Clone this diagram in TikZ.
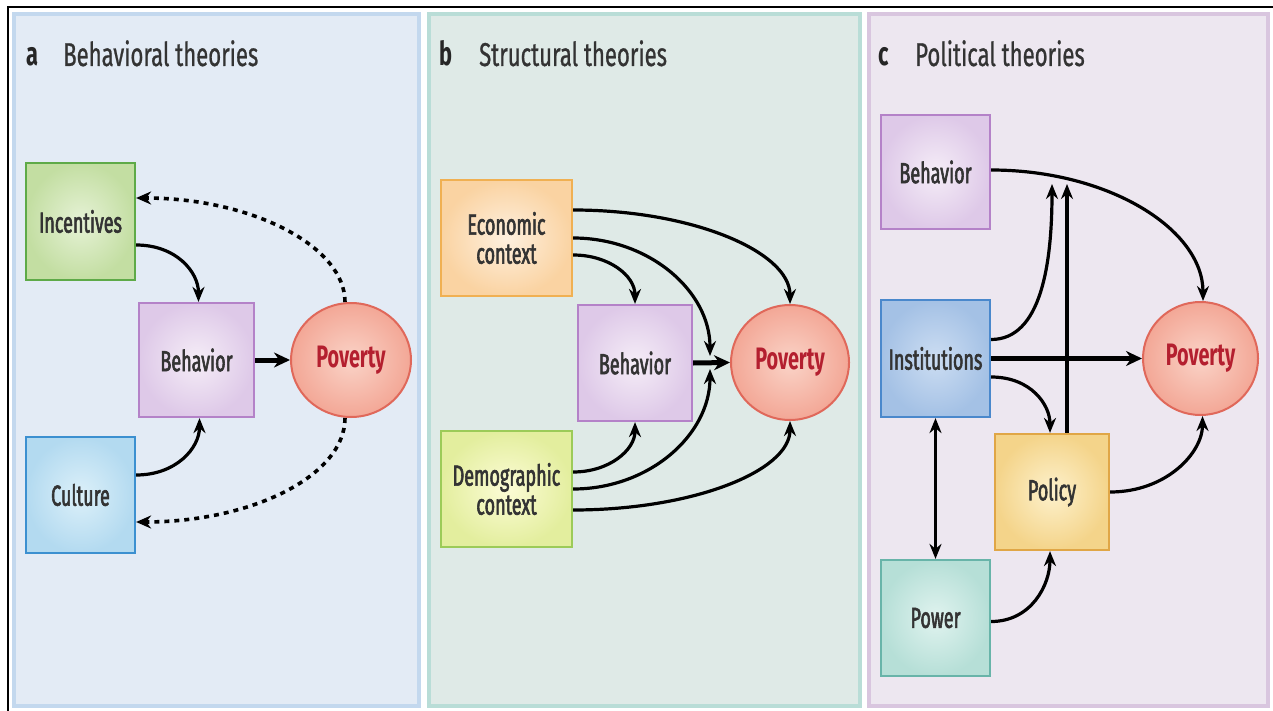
\documentclass[tikz,border=0pt]{standalone}
\usepackage{fontspec}
\setmainfont{Fira Sans}[FakeStretch=0.66]
\newfontfamily\boxfont{Fira Sans}[FakeStretch=0.62, FakeBold=2]
\newfontfamily\headfont{Fira Sans}[FakeStretch=0.67, FakeBold=0.7]
\newfontfamily\povfont{Fira Sans}[FakeStretch=0.64]
\usetikzlibrary{arrows.meta,shapes.geometric,calc}

% panel colours
\definecolor{panAfill}{HTML}{E3EBF5}\definecolor{panAline}{HTML}{C3D8EE}
\definecolor{panBfill}{HTML}{DFEAE7}\definecolor{panBline}{HTML}{B9DDD7}
\definecolor{panCfill}{HTML}{EDE7F0}\definecolor{panCline}{HTML}{D9C6DF}
% box colours: centre, edge, outline
\definecolor{grnIn}{HTML}{E6F2D6}\definecolor{grnOut}{HTML}{C3DEA2}\definecolor{grnLine}{HTML}{5EAA48}
\definecolor{purIn}{HTML}{F5EDF7}\definecolor{purOut}{HTML}{DEC9E8}\definecolor{purLine}{HTML}{B482C8}
\definecolor{bluIn}{HTML}{DCF0F9}\definecolor{bluOut}{HTML}{B3DAF0}\definecolor{bluLine}{HTML}{3C90D0}
\definecolor{orgIn}{HTML}{FEF0DF}\definecolor{orgOut}{HTML}{FAD3A2}\definecolor{orgLine}{HTML}{F0B052}
\definecolor{yelIn}{HTML}{FCFCD6}\definecolor{yelOut}{HTML}{E3EE9E}\definecolor{yelLine}{HTML}{9CCB58}
\definecolor{insIn}{HTML}{CCDDF2}\definecolor{insOut}{HTML}{A4C1E5}\definecolor{insLine}{HTML}{4A88CC}
\definecolor{polIn}{HTML}{FDF1CC}\definecolor{polOut}{HTML}{F4D48A}\definecolor{polLine}{HTML}{E0A646}
\definecolor{powIn}{HTML}{E0F3EF}\definecolor{powOut}{HTML}{B6DFD7}\definecolor{powLine}{HTML}{68B4A9}
\definecolor{povIn}{HTML}{FAD3C7}\definecolor{povOut}{HTML}{F3A796}\definecolor{povLine}{HTML}{E0685A}
\definecolor{povText}{HTML}{B41F2F}
\definecolor{txt}{HTML}{333333}

\tikzset{
  panel/.style={line width=4pt},
  box/.style={rectangle, line width=2.2pt, minimum width=109pt, minimum height=116pt,
    inner sep=0pt, align=center, text=txt, font=\boxfont\fontsize{29}{29}\selectfont},
  povnode/.style={ellipse, line width=2pt, draw=povLine, inner color=povIn, outer color=povOut,
    inner sep=0pt, text=povText, font=\povfont\bfseries\fontsize{31}{32}\selectfont},
  tinted/.style n args={3}{draw=#3, inner color=#1, outer color=#2},
  heading/.style={anchor=base west, inner sep=0pt, text=txt, font=\headfont\fontsize{33}{34}\selectfont},
  letter/.style={anchor=base west, inner sep=0pt, text=black!85, font=\bfseries\fontsize{33}{34}\selectfont},
  arr/.style={line width=3.2pt, -{Stealth[length=15pt,width=12pt]}},
  bigarr/.style={line width=5pt, -{Stealth[length=16pt,width=15pt]}},
  dotarr/.style={line width=3.6pt, dash pattern=on 5pt off 5pt, -{Stealth[length=15pt,width=13pt]}},
  duoarr/.style={line width=3.2pt, {Stealth[length=15pt,width=12pt]}-{Stealth[length=15pt,width=12pt]}},
}

\begin{document}
\begin{tikzpicture}[x=1pt,y=-1pt]
\useasboundingbox (0,0) rectangle (1273,711);
\fill[white] (0,0) rectangle (1273,711);

% frame lines on top and left
\draw[line width=1.5pt] (8,711) -- (8,7) -- (1273,7);

% the three panels
\draw[panel, fill=panAfill, draw=panAline] (14,14) rectangle (419,706);
\draw[panel, fill=panBfill, draw=panBline] (429,14) rectangle (860,706);
\draw[panel, fill=panCfill, draw=panCline] (869,14) rectangle (1268,706);

% headings
\node[letter] (la) at (26,66) {a};
\node[heading] (ha) at (63,66) {Behavioral theories};
\node[letter] (lb) at (439,66) {b};
\node[heading] (hb) at (479,66) {Structural theories};
\node[letter] (lc) at (878,66) {c};
\node[heading] (hc) at (915,66) {Political theories};

% ---------- a: behavioral theories ----------
\node[box, tinted={grnIn}{grnOut}{grnLine}, minimum height=117pt] (inc) at (80.5,221.5) {Incentives};
\node[box, tinted={purIn}{purOut}{purLine}, minimum width=115pt, minimum height=114pt] (behA) at (196.5,360) {Behavior};
\node[povnode, minimum width=120pt, minimum height=114pt] (povA) at (351,360) {Poverty};
\node[box, tinted={bluIn}{bluOut}{bluLine}] (cul) at (80.5,495) {Culture};

\draw[arr] ([yshift=-23.5pt]inc.east) .. controls +(40,0) and +(0,-30) .. ([xshift=2pt]behA.north);
\draw[arr] ([yshift=20pt]cul.east) .. controls +(40,0) and +(0,30) .. ([xshift=3pt]behA.south);
\draw[bigarr] (behA.east) -- (povA.west);
\draw[dotarr] ([xshift=-6pt]povA.north) .. controls +(0,-56) and +(115,0) .. ([yshift=23.5pt]inc.east);
\draw[dotarr] ([xshift=-6pt]povA.south) .. controls +(0,58) and +(115,0) .. ([yshift=-27pt]cul.east);

% ---------- b: structural theories ----------
\node[box, tinted={orgIn}{orgOut}{orgLine}, minimum width=131pt] (eco) at (506.5,238) {Economic\\context};
\node[box, tinted={purIn}{purOut}{purLine}, minimum width=114pt] (behB) at (635,363) {Behavior};
\node[povnode, minimum width=118pt, minimum height=115pt] (povB) at (790,362.5) {Poverty};
\node[box, tinted={yelIn}{yelOut}{yelLine}, minimum width=131pt] (dem) at (506.5,489) {Demographic\\context};

\coordinate (mergeTop) at (710,356);
\coordinate (mergeBot) at (710,369);

\draw[arr] ([yshift=28pt]eco.east) .. controls +(120,0) and +(0,-52) .. (povB.north);
\draw[arr] (eco.east) .. controls +(76,0) and +(0,-65) .. (mergeTop);
\draw[arr] ([yshift=-17pt]eco.east) .. controls +(36,0) and +(0,-28) .. (behB.north);
\draw[bigarr] (behB.east) -- (povB.west);
\draw[arr] ([yshift=17pt]dem.east) .. controls +(36,0) and +(0,28) .. (behB.south);
\draw[arr] (dem.east) .. controls +(76,0) and +(0,66) .. (mergeBot);
\draw[arr] ([yshift=-21pt]dem.east) .. controls +(120,0) and +(0,50) .. (povB.south);

% ---------- c: political theories ----------
\node[box, tinted={purIn}{purOut}{purLine}, minimum height=114pt] (behC) at (935.5,172) {Behavior};
\node[box, tinted={insIn}{insOut}{insLine}, minimum height=117pt] (inst) at (935.5,358.5) {Institutions};
\node[povnode, minimum width=115pt, minimum height=113pt] (povC) at (1200.5,358.5) {Poverty};
\node[box, tinted={polIn}{polOut}{polLine}, minimum width=114pt] (pol) at (1052,492) {Policy};
\node[box, tinted={powIn}{powOut}{powLine}] (pow) at (935.5,618) {Power};

\coordinate (upA) at (1052,184);
\coordinate (upB) at (1067,184);

\draw[arr] ([yshift=2pt]behC.east) .. controls +(117,0) and +(0,-72) .. ([xshift=2.5pt]povC.north);
\draw[arr] ([yshift=19pt]inst.east) .. controls +(50,0) and +(0,80) .. (upA);
\draw[arr] ([xshift=15pt]pol.north) -- (upB);
\draw[bigarr] (inst.east) -- (povC.west);
\draw[arr] ([yshift=-18.5pt]inst.east) .. controls +(40,0) and +(0,-28) .. ([xshift=-2pt]pol.north);
\draw[duoarr] (inst.south) -- (pow.north);
\draw[arr] ([yshift=-3.5pt]pow.east) .. controls +(40,0) and +(0,34) .. ([xshift=-2pt]pol.south);
\draw[arr] (pol.east) .. controls +(56,0) and +(0,37) .. ([xshift=2pt]povC.south);
\end{tikzpicture}
\end{document}
